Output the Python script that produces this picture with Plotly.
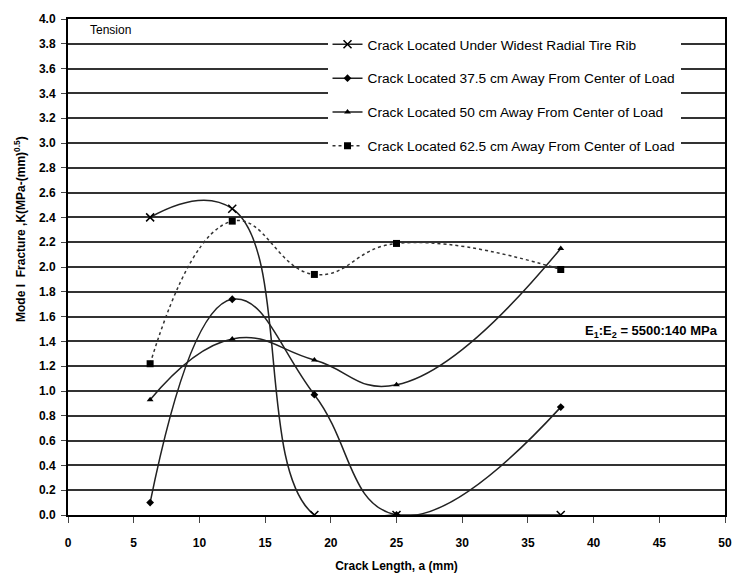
import plotly.graph_objects as go

crack_len = [6.25, 12.5, 18.75, 25, 37.5]
s_rib = [2.40, 2.47, 0.0, 0.0, 0.0]
s_375 = [0.10, 1.74, 0.97, 0.0, 0.87]
s_50 = [0.93, 1.42, 1.25, 1.05, 2.15]
s_625 = [1.22, 2.37, 1.94, 2.19, 1.98]

names = ["Crack Located Under Widest Radial Tire Rib",
         "Crack Located 37.5 cm Away From Center of Load",
         "Crack Located 50 cm Away From Center of Load",
         "Crack Located 62.5 cm Away From Center of Load"]
x_ticks = list(range(0, 55, 5))
y_ticks = [round(i * 0.2, 1) for i in range(21)]

FONT = "Liberation Sans"
fig = go.Figure()
styles = [
    dict(series=s_rib, symbol="x-thin-open", size=8, dash="solid", color="#222", mline=1.5),
    dict(series=s_375, symbol="diamond", size=6, dash="solid", color="#222", mline=0),
    dict(series=s_50, symbol="triangle-up", size=6, dash="solid", color="#222", mline=0),
    dict(series=s_625, symbol="square", size=7, dash="dot", color="#333", mline=0),
]
for i, st in enumerate(styles):
    fig.add_trace(go.Scatter(
        x=crack_len, y=st["series"], name=names[i], mode="lines+markers",
        legendgroup=str(i),
        line=dict(color=st["color"], width=1.5, dash=st["dash"], shape="spline", smoothing=1.3),
        marker=dict(symbol=st["symbol"], size=st["size"], color="black",
                    line=dict(color="black", width=st["mline"])),
    ))

fig.update_layout(
    width=742, height=579,
    margin=dict(l=60, r=25, t=11, b=72),
    plot_bgcolor="white", paper_bgcolor="white",
    font=dict(family=FONT, size=12, color="black"),
    showlegend=True,
    legend=dict(x=0.395, y=0.98, xanchor="left", yanchor="top",
                bgcolor="white", borderwidth=0, tracegroupgap=13,
                font=dict(family=FONT, size=13.7, color="black")),
    xaxis=dict(range=[0, 50], tickvals=x_ticks, ticks="outside", ticklen=6,
               showline=True, linecolor="black", linewidth=2, mirror=True,
               showgrid=False, zeroline=False, automargin=False, ticklabelstandoff=10,
               tickfont=dict(family=FONT, size=12, color="black", weight="bold"),
               title=dict(text="<b>Crack Length, a (mm)</b>", font=dict(size=12), standoff=12)),
    yaxis=dict(range=[0, 4], tickvals=y_ticks, tickformat=".1f", ticks="outside", ticklen=5,
               showline=True, linecolor="black", linewidth=2, mirror=True,
               showgrid=True, gridcolor="#333", gridwidth=2, zeroline=False, automargin=False,
               ticklabelstandoff=3,
               tickfont=dict(family=FONT, size=12, color="black", weight="bold")),
)

fig.add_annotation(x=-0.074, y=(514 - 227) / 497, xref="paper", yref="paper",
                   xanchor="center", yanchor="middle", textangle=-90,
                   text="<b>Mode I  Fracture ,K(MPa-(mm)<sup>0.5</sup>)</b>", showarrow=False,
                   font=dict(family=FONT, size=12))
fig.add_annotation(x=0.03, y=0.995, xref="paper", yref="paper", xanchor="left", yanchor="top",
                   text="Tension", showarrow=False, font=dict(family=FONT, size=12))
fig.add_annotation(x=0.993, y=1.48, xref="paper", yref="y", xanchor="right", yanchor="middle",
                   text="<b>E<sub>1</sub>:E<sub>2</sub> = 5500:140 MPa</b>", showarrow=False,
                   font=dict(family=FONT, size=13))

fig.write_html("out.html")
